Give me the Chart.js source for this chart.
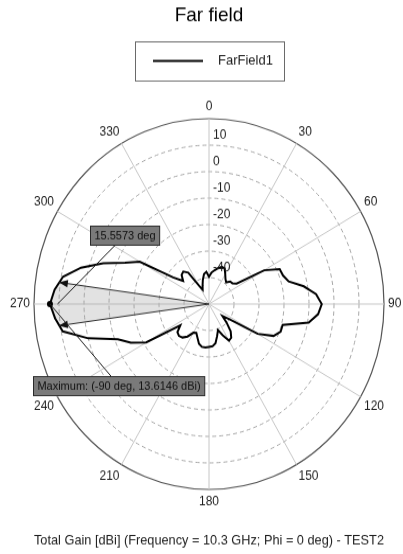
<!DOCTYPE html>
<html>
<head>
<meta charset="utf-8">
<title>Far field</title>
<script src="https://cdn.jsdelivr.net/npm/chart.js@4.4.1/dist/chart.umd.min.js"></script>
<style>
  html, body { margin: 0; padding: 0; background: #ffffff; }
</style>
</head>
<body>
<!-- the drawing surface is rendered at 403x523 and shown at 403x554 -->
<canvas id="farfield" width="403" height="523" style="display:block;width:403px;height:554px;"></canvas>
<script>
// Theta cut, 5 degree steps, 0 at the top, clockwise
const thetaDeg = [
  0, 5, 10, 15, 20, 25, 30, 35, 40, 45, 50, 55,
  60, 65, 70, 75, 80, 85, 90, 95, 100, 105, 110, 115,
  120, 125, 130, 135, 140, 145, 150, 155, 160, 165, 170, 175,
  180, 185, 190, 195, 200, 205, 210, 215, 220, 225, 230, 235,
  240, 245, 250, 255, 260, 265, 270, 275, 280, 285, 290, 295,
  300, 305, 310, 315, 320, 325, 330, 335, 340, 345, 350, 355
];

// Total gain in dBi for each theta above
const gainDbi = [
  -39.7, -38.0, -37.0, -36.0, -35.0, -35.2, -37.0, -38.5, -39.3, -38.0, -37.8, -36.5,
  -24.5, -18.8, -18.5, -17.0, -11.5, -7.0, -4.9, -6.2, -9.5, -19.5, -19.5, -21.5,
  -27.5, -40.0, -43.0, -40.0, -36.5, -34.5, -34.0, -37.0, -39.5, -37.5, -35.0, -34.0,
  -33.8, -33.5, -33.6, -34.5, -36.5, -38.0, -37.5, -35.0, -33.5, -33.0, -33.5, -36.0,
  -21.0, -15.5, -11.2, 0.0, 9.4, 11.8, 13.6146, 12.0, 9.3, 3.0, -5.0, -13.0,
  -18.0, -32.5, -36.5, -34.5, -34.0, -35.5, -42.0, -44.0, -42.5, -40.5, -38.5, -37.8
];

const radialTickValues = [10, 0, -10, -20, -30, -40];
const radialMin = -50;
const radialMax = 20;
const radialStep = 10;
const angleLabelEvery = 30;

const peakTheta = 270;        // -90 deg
const peakGain = 13.6146;     // dBi
const beamWidthDeg = 15.5573; // -3 dB width
const beamDrop = 3;

const seriesName = 'FarField1';
const chartTitle = 'Far field';
const footLine = 'Total Gain [dBi] (Frequency = 10.3 GHz; Phi = 0 deg) - TEST2';
const peakNote = 'Maximum: (-90 deg, 13.6146 dBi)';
const beamNote = '15.5573 deg';

const FONT = '"Liberation Sans", Arial, Helvetica, sans-serif';
Chart.defaults.font.family = FONT;

// position on the polar scale for any theta (degrees) and gain (dBi)
function polarPoint(chart, theta, value) {
  const s = chart.scales.r;
  const step = 360 / chart.data.labels.length;
  return s.getPointPosition(theta / step, s.getDistanceFromCenterForValue(value));
}

// shaded -3 dB sector under the main lobe
const beamSector = {
  id: 'beamSector',
  beforeDatasetsDraw(chart) {
    const s = chart.scales.r;
    const c = chart.ctx;
    const half = beamWidthDeg / 2;
    const edgeVal = peakGain - beamDrop;
    const a0 = peakTheta - half, a1 = peakTheta + half;
    c.save();
    c.beginPath();
    c.moveTo(s.xCenter, s.yCenter);
    let p = polarPoint(chart, a0, edgeVal);
    c.lineTo(p.x, p.y);
    thetaDeg.forEach((t, i) => {
      if (t > a0 && t < a1) {
        const q = polarPoint(chart, t, gainDbi[i]);
        c.lineTo(q.x, q.y);
      }
    });
    p = polarPoint(chart, a1, edgeVal);
    c.lineTo(p.x, p.y);
    c.closePath();
    c.fillStyle = 'rgba(150,150,150,0.28)';
    c.fill();
    c.restore();
  }
};

// angle labels around the rim and gain labels along the 0 deg spoke
const polarText = {
  id: 'polarText',
  afterDatasetsDraw(chart) {
    const s = chart.scales.r;
    const c = chart.ctx;
    const size = 12, h = size * 1.2, pad = 4;
    c.save();
    c.fillStyle = '#1c1c1c';
    c.font = size + 'px ' + FONT;
    c.textBaseline = 'middle';
    chart.data.labels.forEach((lab, i) => {
      const deg = thetaDeg[i];
      if (deg % angleLabelEvery !== 0) return;
      const p = s.getPointPosition(i, s.drawingArea + pad);
      let y = p.y;
      if (deg === 90 || deg === 270) y -= h / 2;
      else if (deg > 270 || deg < 90) y -= h;
      c.textAlign = (deg === 0 || deg === 180) ? 'center' : (deg < 180 ? 'left' : 'right');
      c.fillText(lab, p.x, y + h / 2);
    });
    c.textAlign = 'left';
    radialTickValues.forEach(v => {
      const d = s.getDistanceFromCenterForValue(v);
      c.fillText(String(v), s.xCenter + 4, s.yCenter - d - 9.6);
    });
    c.restore();
  }
};

function noteBox(c, text, cx, cy) {
  c.font = '11px ' + FONT;
  const w = c.measureText(text).width + 8;
  const h = 18;
  const x = Math.round(cx - w / 2) + 0.5, y = Math.round(cy - h / 2) + 0.5;
  c.fillStyle = '#7a7a7a';
  c.fillRect(x, y, w, h);
  c.strokeStyle = '#2a2a2a';
  c.lineWidth = 1;
  c.strokeRect(x, y, w, h);
  c.fillStyle = '#111111';
  c.textAlign = 'center';
  c.textBaseline = 'middle';
  c.fillText(text, cx, cy + 0.5);
}

// beam edges with arrow heads, leaders and the two note boxes
const beamMarks = {
  id: 'beamMarks',
  afterDatasetsDraw(chart) {
    const s = chart.scales.r;
    const c = chart.ctx;
    const half = beamWidthDeg / 2;
    const edgeVal = peakGain - beamDrop;
    c.save();
    c.strokeStyle = '#2a2a2a';
    c.fillStyle = '#111111';
    c.lineWidth = 1;
    [peakTheta - half, peakTheta + half].forEach(a => {
      const tip = polarPoint(chart, a, edgeVal);
      const dx = tip.x - s.xCenter, dy = tip.y - s.yCenter;
      const len = Math.hypot(dx, dy);
      const ux = dx / len, uy = dy / len;
      c.beginPath();
      c.moveTo(s.xCenter, s.yCenter);
      c.lineTo(tip.x, tip.y);
      c.stroke();
      c.beginPath();
      c.moveTo(tip.x, tip.y);
      c.lineTo(tip.x - 9 * ux - 3.5 * uy, tip.y - 9 * uy + 3.5 * ux);
      c.lineTo(tip.x - 9 * ux + 3.5 * uy, tip.y - 9 * uy - 3.5 * ux);
      c.closePath();
      c.fill();
    });

    const beamBox = {x: 125, y: 222};
    const peakBox = {x: 119, y: 364};
    const arcMid = polarPoint(chart, peakTheta, edgeVal);
    const peakPt = polarPoint(chart, peakTheta, peakGain);
    c.strokeStyle = '#1a1a1a';
    c.beginPath();
    c.moveTo(beamBox.x, beamBox.y);
    c.lineTo(arcMid.x, arcMid.y);
    c.moveTo(peakBox.x, peakBox.y);
    c.lineTo(peakPt.x, peakPt.y);
    c.stroke();

    noteBox(c, beamNote, beamBox.x, beamBox.y);
    noteBox(c, peakNote, peakBox.x, peakBox.y);
    c.restore();
  }
};

// framed legend under the title
const legendFrame = {
  id: 'legendFrame',
  afterDraw(chart) {
    const c = chart.ctx;
    const ds = chart.data.datasets[0];
    const cx = (chart.chartArea.left + chart.chartArea.right) / 2;
    const top = 39.5, h = 37, w = 149;
    const midY = top + 18;
    c.save();
    c.strokeStyle = '#6a6a6a';
    c.lineWidth = 1;
    c.strokeRect(Math.round(cx - w / 2) + 0.5, top, w, h);
    c.strokeStyle = ds.borderColor;
    c.lineWidth = ds.borderWidth;
    c.beginPath();
    c.moveTo(cx - 56, midY);
    c.lineTo(cx - 6, midY);
    c.stroke();
    c.fillStyle = '#1a1a1a';
    c.font = '13px ' + FONT;
    c.textAlign = 'left';
    c.textBaseline = 'middle';
    c.fillText(ds.label, cx + 9, midY);
    c.restore();
  }
};

new Chart(document.getElementById('farfield'), {
  type: 'radar',
  data: {
    labels: thetaDeg.map(String),
    datasets: [{
      label: seriesName,
      data: gainDbi,
      borderColor: '#000000',
      borderWidth: 2,
      fill: false,
      tension: 0,
      pointRadius: ctx => thetaDeg[ctx.dataIndex] === peakTheta ? 3 : 0,
      pointHoverRadius: 0,
      pointBackgroundColor: '#000000',
      pointBorderColor: '#000000',
      pointBorderWidth: 0
    }]
  },
  options: {
    responsive: false,
    animation: false,
    devicePixelRatio: 1,
    events: [],
    layout: { padding: { left: 34, right: 19, top: 0, bottom: 0 } },
    plugins: {
      legend: { display: false },
      tooltip: { enabled: false },
      title: {
        display: true,
        text: chartTitle,
        color: '#000000',
        font: { family: FONT, size: 19, weight: 'normal', lineHeight: 1.2 },
        padding: { top: 3.4, bottom: 85.8 }
      },
      subtitle: {
        display: true,
        position: 'bottom',
        text: footLine,
        color: '#222222',
        font: { family: FONT, size: 13, weight: 'normal', lineHeight: 1.2 },
        padding: { top: 40.9, bottom: 4.5 }
      }
    },
    scales: {
      r: {
        min: radialMin,
        max: radialMax,
        startAngle: 0,
        ticks: { display: false, stepSize: radialStep },
        pointLabels: { display: false },
        grid: {
          circular: true,
          color: ctx => ctx.tick.value === radialMax ? '#555555' : '#a6a6a6',
          lineWidth: ctx => ctx.tick.value === radialMin ? 0 : (ctx.tick.value === radialMax ? 1.2 : 1)
        },
        border: {
          dash: ctx => ctx.tick.value === radialMax ? [] : [4, 3]
        },
        angleLines: {
          color: '#c6c6c6',
          lineWidth: ctx => (thetaDeg[ctx.index] % angleLabelEvery === 0) ? 1 : 0
        }
      }
    }
  },
  plugins: [beamSector, polarText, beamMarks, legendFrame]
});
</script>
</body>
</html>
